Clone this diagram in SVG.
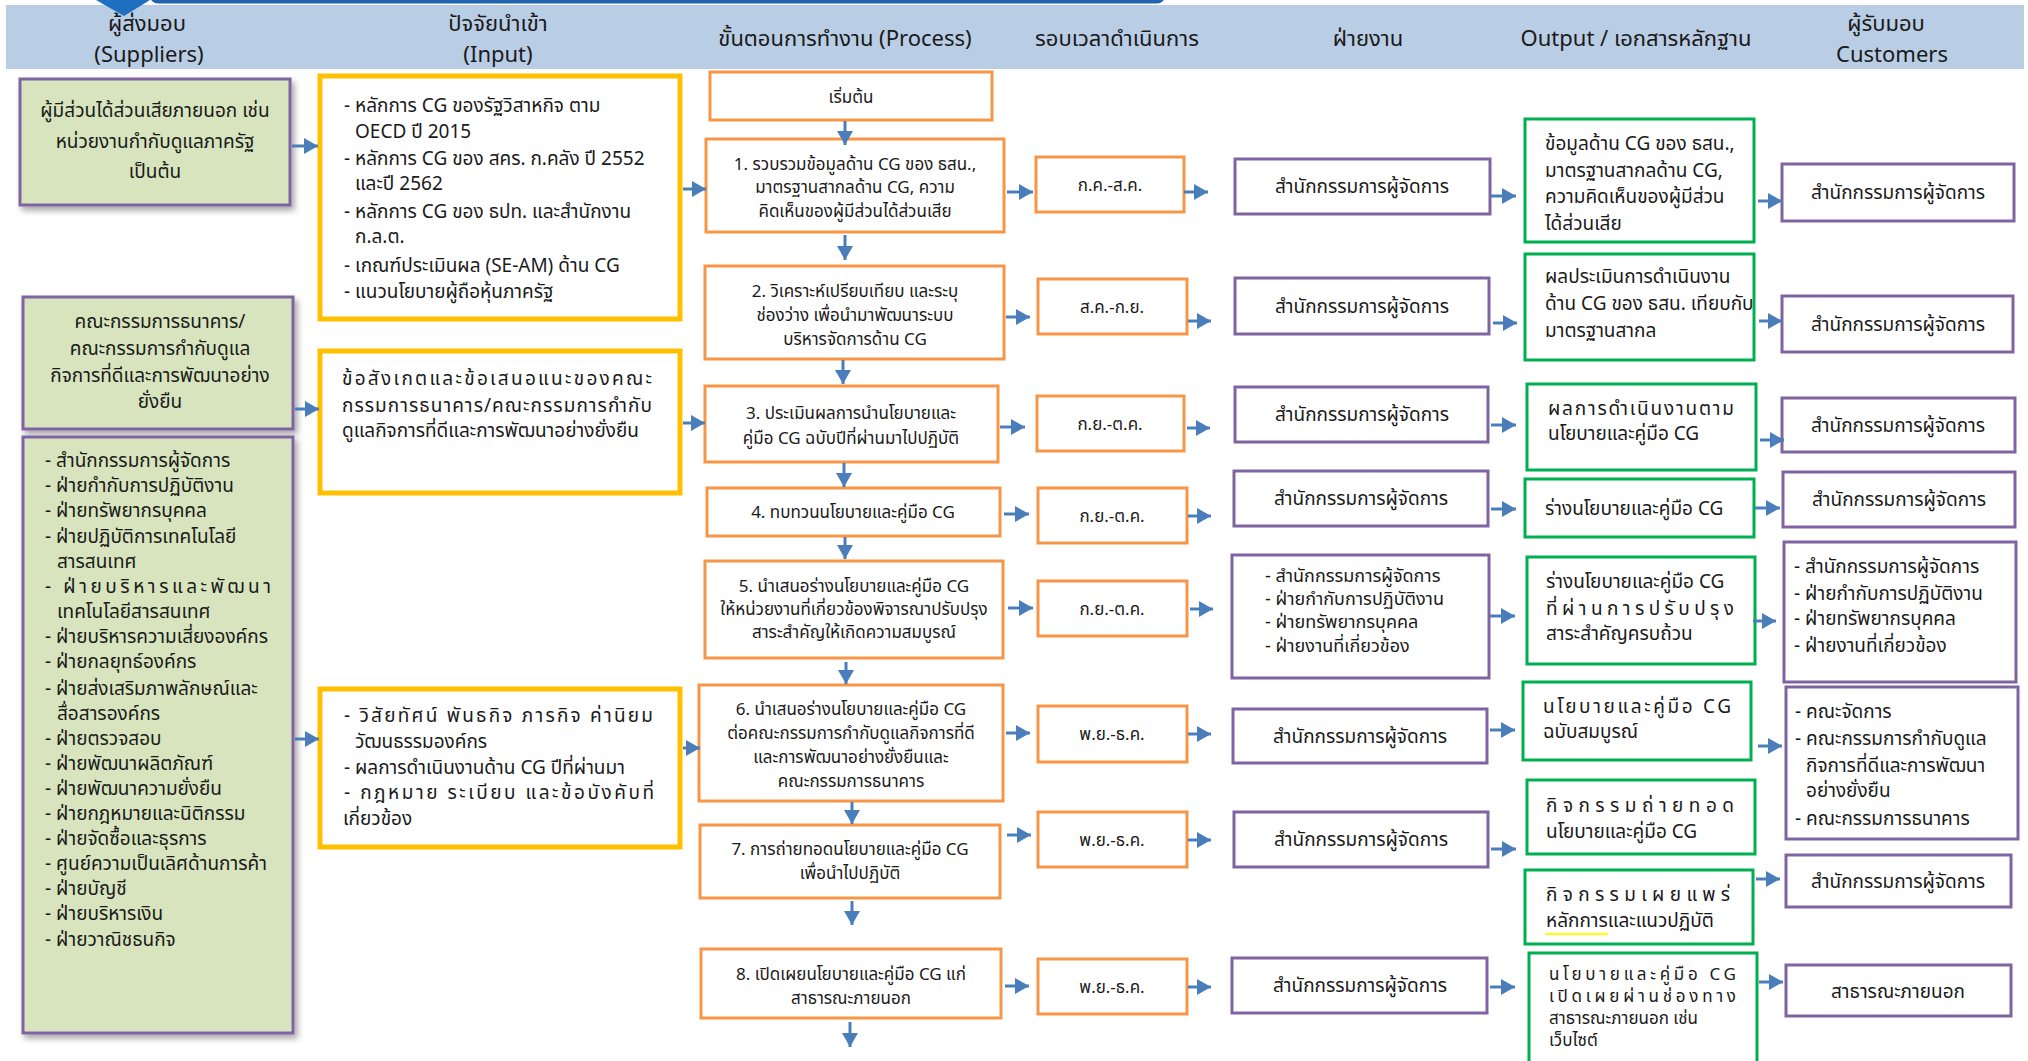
<svg xmlns="http://www.w3.org/2000/svg" width="2028" height="1061" viewBox="0 0 2028 1061">
<style>
text{font-family:"Noto Sans Thai","Noto Sans","Liberation Sans",sans-serif;fill:#1a1a1a}
.h{font-size:22px}
.t{font-size:19px}
.s{font-size:17px}
.l{font-size:18px}
.o9{font-size:17px}
.c{text-anchor:middle}
.sup{fill:#d7e4bd;stroke:#8064a2;stroke-width:3}
.inp{fill:#fff;stroke:#ffc000;stroke-width:5}
.pro{fill:#fff;stroke:#f79646;stroke-width:3}
.dep{fill:#fff;stroke:#8064a2;stroke-width:3}
.out{fill:#fff;stroke:#00b050;stroke-width:3}
.ar{stroke:#4a7ebb;stroke-width:3;fill:none;marker-end:url(#ah)}
</style>
<defs>
<marker id="ah" viewBox="0 0 14 16" markerWidth="14" markerHeight="16" refX="14" refY="8" orient="auto" markerUnits="userSpaceOnUse"><path d="M0,0 L14,8 L0,16 z" fill="#4a7ebb"/></marker>
<filter id="sh" x="-10%" y="-10%" width="130%" height="130%"><feDropShadow dx="3" dy="4" stdDeviation="3" flood-color="#000" flood-opacity="0.35"/></filter>
</defs>
<rect width="2028" height="1061" fill="#fff"/>
<g id="header">
<rect x="6" y="5" width="2018" height="64" fill="#b9cde5"/>
<rect x="150" y="-12" width="1015" height="15.5" rx="8" fill="#1f64ad"/>
<path d="M96,0 L150,0 L124,16 z" fill="#1f6fc0"/>
<text class="h c" x="147" y="31">ผู้ส่งมอบ</text>
<text class="h c" x="149" y="62">(Suppliers)</text>
<text class="h c" x="498" y="31">ปัจจัยนำเข้า</text>
<text class="h c" x="498" y="62">(Input)</text>
<text class="h c" x="845" y="46">ขั้นตอนการทำงาน (Process)</text>
<text class="h c" x="1117" y="46">รอบเวลาดำเนินการ</text>
<text class="h c" x="1368" y="46">ฝ่ายงาน</text>
<text class="h c" x="1636" y="46">Output / เอกสารหลักฐาน</text>
<text class="h c" x="1886" y="31">ผู้รับมอบ</text>
<text class="h c" x="1892" y="62">Customers</text>
</g>
<g id="s1"><rect class="sup" filter="url(#sh)" x="20" y="79" width="270" height="126"/>
<text class="t c" x="155" y="117">ผู้มีส่วนได้ส่วนเสียภายนอก เช่น</text>
<text class="t c" x="155" y="148">หน่วยงานกำกับดูแลภาครัฐ</text>
<text class="t c" x="155" y="178">เป็นต้น</text></g>
<g id="s2"><rect class="sup" filter="url(#sh)" x="23" y="297" width="270" height="132"/>
<text class="t c" x="160" y="328">คณะกรรมการธนาคาร/</text>
<text class="t c" x="160" y="355">คณะกรรมการกำกับดูแล</text>
<text class="t c" x="160" y="382">กิจการที่ดีและการพัฒนาอย่าง</text>
<text class="t c" x="160" y="408">ยั่งยืน</text></g>
<g id="s3"><rect class="sup" filter="url(#sh)" x="23" y="437" width="270" height="596"/>
<text class="t" x="45" y="467">- สำนักกรรมการผู้จัดการ</text>
<text class="t" x="45" y="492">- ฝ่ายกำกับการปฏิบัติงาน</text>
<text class="t" x="45" y="517">- ฝ่ายทรัพยากรบุคคล</text>
<text class="t" x="45" y="543">- ฝ่ายปฏิบัติการเทคโนโลยี</text>
<text class="t" x="57" y="568">สารสนเทศ</text>
<text class="t" x="45" y="593" textLength="226" lengthAdjust="spacing">- ฝ่ายบริหารและพัฒนา</text>
<text class="t" x="57" y="618">เทคโนโลยีสารสนเทศ</text>
<text class="t" x="45" y="643">- ฝ่ายบริหารความเสี่ยงองค์กร</text>
<text class="t" x="45" y="668">- ฝ่ายกลยุทธ์องค์กร</text>
<text class="t" x="45" y="695">- ฝ่ายส่งเสริมภาพลักษณ์และ</text>
<text class="t" x="57" y="720">สื่อสารองค์กร</text>
<text class="t" x="45" y="745">- ฝ่ายตรวจสอบ</text>
<text class="t" x="45" y="770">- ฝ่ายพัฒนาผลิตภัณฑ์</text>
<text class="t" x="45" y="795">- ฝ่ายพัฒนาความยั่งยืน</text>
<text class="t" x="45" y="820">- ฝ่ายกฎหมายและนิติกรรม</text>
<text class="t" x="45" y="845">- ฝ่ายจัดซื้อและธุรการ</text>
<text class="t" x="45" y="870">- ศูนย์ความเป็นเลิศด้านการค้า</text>
<text class="t" x="45" y="895">- ฝ่ายบัญชี</text>
<text class="t" x="45" y="920">- ฝ่ายบริหารเงิน</text>
<text class="t" x="45" y="946">- ฝ่ายวาณิชธนกิจ</text></g>
<g id="i1"><rect class="inp" x="320" y="76" width="360" height="243"/>
<text class="t" x="344" y="112">- หลักการ CG ของรัฐวิสาหกิจ ตาม</text>
<text class="t" x="355" y="138">OECD ปี 2015</text>
<text class="t" x="344" y="165">- หลักการ CG ของ สคร. ก.คลัง ปี 2552</text>
<text class="t" x="355" y="190">และปี 2562</text>
<text class="t" x="344" y="218">- หลักการ CG ของ ธปท. และสำนักงาน</text>
<text class="t" x="355" y="243">ก.ล.ต.</text>
<text class="t" x="344" y="272">- เกณฑ์ประเมินผล (SE-AM) ด้าน CG</text>
<text class="t" x="344" y="298">- แนวนโยบายผู้ถือหุ้นภาครัฐ</text></g>
<g id="i2"><rect class="inp" x="320" y="351" width="360" height="142"/>
<text class="t" x="342" y="385" textLength="310" lengthAdjust="spacing">ข้อสังเกตและข้อเสนอแนะของคณะ</text>
<text class="t" x="342" y="412" textLength="310" lengthAdjust="spacing">กรรมการธนาคาร/คณะกรรมการกำกับ</text>
<text class="t" x="342" y="437">ดูแลกิจการที่ดีและการพัฒนาอย่างยั่งยืน</text></g>
<g id="i3"><rect class="inp" x="320" y="689" width="360" height="158"/>
<text class="t" x="344" y="722" textLength="309" lengthAdjust="spacing">- วิสัยทัศน์ พันธกิจ ภารกิจ ค่านิยม</text>
<text class="t" x="355" y="748">วัฒนธรรมองค์กร</text>
<text class="t" x="344" y="774">- ผลการดำเนินงานด้าน CG ปีที่ผ่านมา</text>
<text class="t" x="344" y="799" textLength="310" lengthAdjust="spacing">- กฎหมาย ระเบียบ และข้อบังคับที่</text>
<text class="t" x="343" y="825">เกี่ยวข้อง</text></g>
<g id="start"><rect class="pro" x="710" y="72" width="282" height="48"/>
<text class="s c" x="851" y="103">เริ่มต้น</text></g>
<g id="p1"><rect class="pro" x="706" y="139" width="298" height="93"/>
<text class="s c" x="855" y="170">1. รวบรวมข้อมูลด้าน CG ของ ธสน.,</text>
<text class="s c" x="855" y="193">มาตรฐานสากลด้าน CG, ความ</text>
<text class="s c" x="855" y="217">คิดเห็นของผู้มีส่วนได้ส่วนเสีย</text></g>
<g id="p2"><rect class="pro" x="705" y="266" width="299" height="93"/>
<text class="s c" x="855" y="297">2. วิเคราะห์เปรียบเทียบ และระบุ</text>
<text class="s c" x="855" y="321">ช่องว่าง เพื่อนำมาพัฒนาระบบ</text>
<text class="s c" x="855" y="345">บริหารจัดการด้าน CG</text></g>
<g id="p3"><rect class="pro" x="705" y="386" width="293" height="76"/>
<text class="s c" x="851" y="419">3. ประเมินผลการนำนโยบายและ</text>
<text class="s c" x="851" y="444">คู่มือ CG ฉบับปีที่ผ่านมาไปปฏิบัติ</text></g>
<g id="p4"><rect class="pro" x="707" y="488" width="293" height="48"/>
<text class="s c" x="853" y="518">4. ทบทวนนโยบายและคู่มือ CG</text></g>
<g id="p5"><rect class="pro" x="705" y="561" width="298" height="97"/>
<text class="s c" x="854" y="592">5. นำเสนอร่างนโยบายและคู่มือ CG</text>
<text class="s c" x="854" y="615">ให้หน่วยงานที่เกี่ยวข้องพิจารณาปรับปรุง</text>
<text class="s c" x="854" y="638">สาระสำคัญให้เกิดความสมบูรณ์</text></g>
<g id="p6"><rect class="pro" x="699" y="685" width="304" height="116"/>
<text class="s c" x="851" y="715">6. นำเสนอร่างนโยบายและคู่มือ CG</text>
<text class="s c" x="851" y="739">ต่อคณะกรรมการกำกับดูแลกิจการที่ดี</text>
<text class="s c" x="851" y="763">และการพัฒนาอย่างยั่งยืนและ</text>
<text class="s c" x="851" y="787">คณะกรรมการธนาคาร</text></g>
<g id="p7"><rect class="pro" x="700" y="825" width="300" height="73"/>
<text class="s c" x="850" y="855">7. การถ่ายทอดนโยบายและคู่มือ CG</text>
<text class="s c" x="850" y="879">เพื่อนำไปปฏิบัติ</text></g>
<g id="p8"><rect class="pro" x="701" y="949" width="300" height="69"/>
<text class="s c" x="851" y="980">8. เปิดเผยนโยบายและคู่มือ CG แก่</text>
<text class="s c" x="851" y="1004">สาธารณะภายนอก</text></g>
<g id="t1"><rect class="pro" x="1036" y="157" width="148" height="55"/><text class="s c" x="1110" y="191">ก.ค.-ส.ค.</text></g>
<g id="t2"><rect class="pro" x="1038" y="279" width="149" height="55"/><text class="s c" x="1112" y="313">ส.ค.-ก.ย.</text></g>
<g id="t3"><rect class="pro" x="1037" y="396" width="147" height="55"/><text class="s c" x="1110" y="430">ก.ย.-ต.ค.</text></g>
<g id="t4"><rect class="pro" x="1038" y="488" width="149" height="55"/><text class="s c" x="1112" y="522">ก.ย.-ต.ค.</text></g>
<g id="t5"><rect class="pro" x="1038" y="581" width="149" height="55"/><text class="s c" x="1112" y="615">ก.ย.-ต.ค.</text></g>
<g id="t6"><rect class="pro" x="1038" y="706" width="149" height="56"/><text class="s c" x="1112" y="740">พ.ย.-ธ.ค.</text></g>
<g id="t7"><rect class="pro" x="1038" y="812" width="149" height="55"/><text class="s c" x="1112" y="846">พ.ย.-ธ.ค.</text></g>
<g id="t8"><rect class="pro" x="1038" y="959" width="149" height="55"/><text class="s c" x="1112" y="993">พ.ย.-ธ.ค.</text></g>
<g id="d1"><rect class="dep" x="1235" y="159" width="255" height="55"/><text class="t c" x="1362" y="193">สำนักกรรมการผู้จัดการ</text></g>
<g id="d2"><rect class="dep" x="1235" y="278" width="254" height="56"/><text class="t c" x="1362" y="313">สำนักกรรมการผู้จัดการ</text></g>
<g id="d3"><rect class="dep" x="1235" y="387" width="253" height="55"/><text class="t c" x="1362" y="421">สำนักกรรมการผู้จัดการ</text></g>
<g id="d4"><rect class="dep" x="1234" y="471" width="254" height="55"/><text class="t c" x="1361" y="505">สำนักกรรมการผู้จัดการ</text></g>
<g id="d5"><rect class="dep" x="1232" y="555" width="257" height="123"/>
<text class="l" x="1265" y="582">- สำนักกรรมการผู้จัดการ</text>
<text class="l" x="1265" y="605">- ฝ่ายกำกับการปฏิบัติงาน</text>
<text class="l" x="1265" y="628">- ฝ่ายทรัพยากรบุคคล</text>
<text class="l" x="1265" y="652">- ฝ่ายงานที่เกี่ยวข้อง</text></g>
<g id="d6"><rect class="dep" x="1233" y="709" width="254" height="54"/><text class="t c" x="1360" y="743">สำนักกรรมการผู้จัดการ</text></g>
<g id="d7"><rect class="dep" x="1234" y="812" width="254" height="55"/><text class="t c" x="1361" y="846">สำนักกรรมการผู้จัดการ</text></g>
<g id="d8"><rect class="dep" x="1232" y="958" width="255" height="55"/><text class="t c" x="1360" y="992">สำนักกรรมการผู้จัดการ</text></g>
<g id="o1"><rect class="out" x="1525" y="119" width="229" height="123"/>
<text class="t" x="1545" y="150">ข้อมูลด้าน CG ของ ธสน.,</text>
<text class="t" x="1545" y="177">มาตรฐานสากลด้าน CG,</text>
<text class="t" x="1545" y="203">ความคิดเห็นของผู้มีส่วน</text>
<text class="t" x="1545" y="230">ได้ส่วนเสีย</text></g>
<g id="o2"><rect class="out" x="1525" y="254" width="229" height="106"/>
<text class="t" x="1545" y="283">ผลประเมินการดำเนินงาน</text>
<text class="t" x="1545" y="310">ด้าน CG ของ ธสน. เทียบกับ</text>
<text class="t" x="1545" y="337">มาตรฐานสากล</text></g>
<g id="o3"><rect class="out" x="1527" y="384" width="229" height="86"/>
<text class="t" x="1548" y="415" textLength="186" lengthAdjust="spacing">ผลการดำเนินงานตาม</text>
<text class="t" x="1548" y="440">นโยบายและคู่มือ CG</text></g>
<g id="o4"><rect class="out" x="1525" y="479" width="229" height="58"/>
<text class="t" x="1545" y="515">ร่างนโยบายและคู่มือ CG</text></g>
<g id="o5"><rect class="out" x="1527" y="557" width="228" height="107"/>
<text class="t" x="1546" y="588">ร่างนโยบายและคู่มือ CG</text>
<text class="t" x="1546" y="615" textLength="188" lengthAdjust="spacing">ที่ผ่านการปรับปรุง</text>
<text class="t" x="1546" y="640">สาระสำคัญครบถ้วน</text></g>
<g id="o6"><rect class="out" x="1523" y="682" width="228" height="78"/>
<text class="t" x="1543" y="713" textLength="188" lengthAdjust="spacing">นโยบายและคู่มือ CG</text>
<text class="t" x="1543" y="738">ฉบับสมบูรณ์</text></g>
<g id="o7"><rect class="out" x="1527" y="780" width="228" height="74"/>
<text class="t" x="1546" y="812" textLength="188" lengthAdjust="spacing">กิจกรรมถ่ายทอด</text>
<text class="t" x="1546" y="838">นโยบายและคู่มือ CG</text></g>
<g id="o8"><rect class="out" x="1525" y="870" width="228" height="74"/>
<text class="t" x="1546" y="901" textLength="184" lengthAdjust="spacing">กิจกรรมเผยแพร่</text>
<text class="t" x="1546" y="927">หลักการและแนวปฏิบัติ</text>
<line x1="1545" y1="934" x2="1608" y2="934" stroke="#ffff00" stroke-width="2"/></g>
<g id="o9"><rect class="out" x="1529" y="953" width="228" height="115"/>
<text class="o9" x="1549" y="980" textLength="187" lengthAdjust="spacing">นโยบายและคู่มือ CG</text>
<text class="o9" x="1549" y="1002" textLength="187" lengthAdjust="spacing">เปิดเผยผ่านช่องทาง</text>
<text class="o9" x="1549" y="1024">สาธารณะภายนอก เช่น</text>
<text class="o9" x="1549" y="1046">เว็บไซต์</text></g>
<g id="c1"><rect class="dep" x="1782" y="164" width="232" height="57"/><text class="t c" x="1898" y="199">สำนักกรรมการผู้จัดการ</text></g>
<g id="c2"><rect class="dep" x="1782" y="296" width="231" height="56"/><text class="t c" x="1898" y="331">สำนักกรรมการผู้จัดการ</text></g>
<g id="c3"><rect class="dep" x="1782" y="398" width="233" height="54"/><text class="t c" x="1898" y="432">สำนักกรรมการผู้จัดการ</text></g>
<g id="c4"><rect class="dep" x="1783" y="472" width="232" height="55"/><text class="t c" x="1899" y="506">สำนักกรรมการผู้จัดการ</text></g>
<g id="c5"><rect class="dep" x="1784" y="542" width="232" height="140"/>
<text class="t" x="1794" y="573">- สำนักกรรมการผู้จัดการ</text>
<text class="t" x="1794" y="600">- ฝ่ายกำกับการปฏิบัติงาน</text>
<text class="t" x="1794" y="625">- ฝ่ายทรัพยากรบุคคล</text>
<text class="t" x="1794" y="652">- ฝ่ายงานที่เกี่ยวข้อง</text></g>
<g id="c6"><rect class="dep" x="1786" y="687" width="232" height="152"/>
<text class="t" x="1795" y="718">- คณะจัดการ</text>
<text class="t" x="1795" y="745">- คณะกรรมการกำกับดูแล</text>
<text class="t" x="1806" y="772">กิจการที่ดีและการพัฒนา</text>
<text class="t" x="1806" y="797">อย่างยั่งยืน</text>
<text class="t" x="1795" y="825">- คณะกรรมการธนาคาร</text></g>
<g id="c7"><rect class="dep" x="1786" y="855" width="225" height="52"/><text class="t c" x="1898" y="888">สำนักกรรมการผู้จัดการ</text></g>
<g id="c8"><rect class="dep" x="1786" y="965" width="225" height="51"/><text class="t c" x="1898" y="998">สาธารณะภายนอก</text></g>
<g id="connectors">
<line class="ar" x1="292" y1="146" x2="318" y2="146"/>
<line class="ar" x1="295" y1="409" x2="319" y2="409"/>
<line class="ar" x1="295" y1="739" x2="319" y2="739"/>
<line class="ar" x1="683" y1="189" x2="706" y2="189"/>
<line class="ar" x1="683" y1="423" x2="705" y2="423"/>
<line class="ar" x1="683" y1="748" x2="700" y2="748"/>
<line class="ar" x1="845" y1="121" x2="845" y2="145"/>
<line class="ar" x1="845" y1="235" x2="845" y2="260"/>
<line class="ar" x1="843" y1="360" x2="843" y2="384"/>
<line class="ar" x1="844" y1="463" x2="844" y2="487"/>
<line class="ar" x1="845" y1="537" x2="845" y2="559"/>
<line class="ar" x1="846" y1="662" x2="846" y2="684"/>
<line class="ar" x1="852" y1="802" x2="852" y2="824"/>
<line class="ar" x1="852" y1="901" x2="852" y2="925"/>
<line class="ar" x1="850" y1="1022" x2="850" y2="1047"/>
<line class="ar" x1="1007" y1="192" x2="1033" y2="192"/>
<line class="ar" x1="1006" y1="317" x2="1030" y2="317"/>
<line class="ar" x1="1000" y1="427" x2="1025" y2="427"/>
<line class="ar" x1="1004" y1="514" x2="1029" y2="514"/>
<line class="ar" x1="1008" y1="608" x2="1033" y2="608"/>
<line class="ar" x1="1006" y1="733" x2="1030" y2="733"/>
<line class="ar" x1="1007" y1="835" x2="1031" y2="835"/>
<line class="ar" x1="1005" y1="986" x2="1029" y2="986"/>
<line class="ar" x1="1184" y1="192" x2="1208" y2="192"/>
<line class="ar" x1="1188" y1="321" x2="1211" y2="321"/>
<line class="ar" x1="1187" y1="428" x2="1210" y2="428"/>
<line class="ar" x1="1188" y1="516" x2="1211" y2="516"/>
<line class="ar" x1="1190" y1="609" x2="1213" y2="609"/>
<line class="ar" x1="1188" y1="734" x2="1211" y2="734"/>
<line class="ar" x1="1188" y1="840" x2="1211" y2="840"/>
<line class="ar" x1="1188" y1="987" x2="1211" y2="987"/>
<line class="ar" x1="1491" y1="196" x2="1516" y2="196"/>
<line class="ar" x1="1493" y1="323" x2="1517" y2="323"/>
<line class="ar" x1="1491" y1="425" x2="1516" y2="425"/>
<line class="ar" x1="1491" y1="509" x2="1516" y2="509"/>
<line class="ar" x1="1490" y1="616" x2="1515" y2="616"/>
<line class="ar" x1="1490" y1="730" x2="1515" y2="730"/>
<line class="ar" x1="1491" y1="849" x2="1516" y2="849"/>
<line class="ar" x1="1490" y1="987" x2="1515" y2="987"/>
<line class="ar" x1="1758" y1="201" x2="1782" y2="201"/>
<line class="ar" x1="1759" y1="321" x2="1782" y2="321"/>
<line class="ar" x1="1760" y1="440" x2="1784" y2="440"/>
<line class="ar" x1="1755" y1="508" x2="1780" y2="508"/>
<line class="ar" x1="1753" y1="621" x2="1776" y2="621"/>
<line class="ar" x1="1758" y1="746" x2="1782" y2="746"/>
<line class="ar" x1="1756" y1="879" x2="1780" y2="879"/>
<line class="ar" x1="1759" y1="982" x2="1783" y2="982"/>
</g>
</svg>
